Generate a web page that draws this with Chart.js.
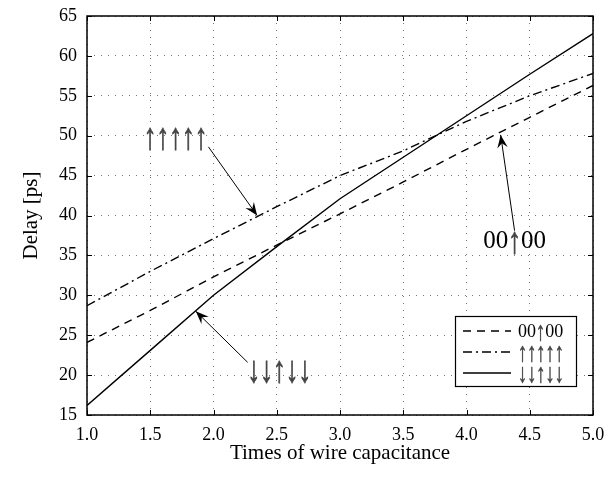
<!DOCTYPE html>
<html>
<head>
<meta charset="utf-8">
<script src="https://cdn.jsdelivr.net/npm/chart.js@4"></script>
<style>
  html, body { margin: 0; padding: 0; background: #fff; }
  #wrap { width: 612px; height: 479px; }
</style>
</head>
<body>
<div id="wrap"><canvas id="delayChart" width="612" height="479"></canvas></div>
<script>
// wire capacitance multiples
let capTimes = [1.0, 1.5, 2.0, 2.5, 3.0, 3.5, 4.0, 4.5, 5.0];

// delays in ps
let delayMid = [24.1, 28.1, 32.3, 36.3, 40.2, 44.2, 48.3, 52.3, 56.3];   // 00↑00
let delayAllUp = [28.7, 33, 37.1, 41.1, 45, 48.1, 51.8, 55, 57.8];       // ↑↑↑↑↑
let delayOpp = [16.2, 23.1, 30, 36.1, 42.1, 47.3, 52.5, 57.7, 62.8];     // ↓↓↑↓↓

let seriesLabels = ["00\u219100", "\u2191\u2191\u2191\u2191\u2191", "\u2193\u2193\u2191\u2193\u2193"];

// annotation text + arrow, in data units
let notes = [
    { text: seriesLabels[1], at: [1.70, 49.8], from: [1.96, 48.6], to: [2.345, 40.0] },
    { text: seriesLabels[2], at: [2.52, 20.6], from: [2.27, 21.6], to: [1.86, 28.0] },
    { text: seriesLabels[0], at: [4.38, 36.7], from: [4.38, 38.1], to: [4.27, 50.1] }
];

const SERIF = "'Liberation Serif', 'DejaVu Serif', serif";

function toXY(xs, ys) {
    return xs.map((x, i) => ({ x: x, y: ys[i] }));
}

// keep the plot box where the layout padding puts it
function noEdgePadding(s) {
    s.paddingTop = 0; s.paddingBottom = 0;
    s.paddingLeft = 0; s.paddingRight = 0;
}

// draws a label char by char: arrows taller and narrower, like the original typesetting
function drawSym(ctx, text, x, y, size, align) {
    let chars = Array.from(text);
    let isArrow = c => c === "\u2191" || c === "\u2193";
    let arrowFont = (size * 1.5) + "px " + SERIF;
    let digitFont = size + "px " + SERIF;
    let squeeze = 0.68;
    let widths = chars.map(c => {
        ctx.font = isArrow(c) ? arrowFont : digitFont;
        return ctx.measureText(c).width * (isArrow(c) ? squeeze : 1);
    });
    let total = widths.reduce((s, w) => s + w, 0);
    let cx = align === "left" ? x : x - total / 2;
    ctx.textAlign = "left";
    ctx.textBaseline = "middle";
    chars.forEach((c, i) => {
        if (isArrow(c)) {
            ctx.save();
            ctx.font = arrowFont;
            ctx.fillStyle = "#444";
            ctx.strokeStyle = "#444";
            ctx.lineWidth = size / 30;
            ctx.translate(cx, y + size * 0.06);
            ctx.scale(squeeze, 1);
            ctx.fillText(c, 0, 0);
            ctx.strokeText(c, 0, 0);
            ctx.restore();
        } else {
            ctx.font = digitFont;
            ctx.fillStyle = "#000";
            ctx.fillText(c, cx, y);
        }
        cx += widths[i];
    });
}

// frame, inward ticks, annotations and the boxed legend
const decorPlugin = {
    id: "decor",
    afterDatasetsDraw(chart) {
        let ctx = chart.ctx;
        let a = chart.chartArea;
        let xs = chart.scales.x, ys = chart.scales.y;
        ctx.save();

        // inward tick marks on all four sides
        ctx.strokeStyle = "#000";
        ctx.lineWidth = 1;
        ctx.beginPath();
        xs.ticks.forEach(t => {
            let px = Math.round(xs.getPixelForValue(t.value)) + 0.5;
            ctx.moveTo(px, a.bottom); ctx.lineTo(px, a.bottom - 5);
            ctx.moveTo(px, a.top); ctx.lineTo(px, a.top + 5);
        });
        ys.ticks.forEach(t => {
            let py = Math.round(ys.getPixelForValue(t.value)) + 0.5;
            ctx.moveTo(a.left, py); ctx.lineTo(a.left + 5, py);
            ctx.moveTo(a.right, py); ctx.lineTo(a.right - 5, py);
        });
        ctx.stroke();

        // frame
        ctx.lineWidth = 1.5;
        ctx.strokeRect(a.left, a.top, a.right - a.left, a.bottom - a.top);

        // annotations
        notes.forEach(n => {
            let lx = xs.getPixelForValue(n.at[0]), ly = ys.getPixelForValue(n.at[1]);
            drawSym(ctx, n.text, lx, ly, 25, "center");
            let x0 = xs.getPixelForValue(n.from[0]), y0 = ys.getPixelForValue(n.from[1]);
            let x1 = xs.getPixelForValue(n.to[0]), y1 = ys.getPixelForValue(n.to[1]);
            ctx.strokeStyle = "#000";
            ctx.fillStyle = "#000";
            ctx.lineWidth = 1;
            ctx.beginPath();
            ctx.moveTo(x0, y0); ctx.lineTo(x1, y1);
            ctx.stroke();
            let ang = Math.atan2(y1 - y0, x1 - x0);
            let len = 14, spread = 0.38;
            ctx.beginPath();
            ctx.moveTo(x1, y1);
            ctx.lineTo(x1 - len * Math.cos(ang - spread), y1 - len * Math.sin(ang - spread));
            ctx.lineTo(x1 - len * 0.6 * Math.cos(ang), y1 - len * 0.6 * Math.sin(ang));
            ctx.lineTo(x1 - len * Math.cos(ang + spread), y1 - len * Math.sin(ang + spread));
            ctx.closePath();
            ctx.fill();
        });

        // legend box (lower right corner of the plot)
        let bx = a.right - 138, by = a.bottom - 99, bw = 121, bh = 70;
        ctx.fillStyle = "#fff";
        ctx.fillRect(bx, by, bw, bh);
        ctx.lineWidth = 1.2;
        ctx.strokeStyle = "#000";
        ctx.strokeRect(bx + 0.5, by + 0.5, bw, bh);
        chart.data.datasets.forEach((ds, i) => {
            let ry = by + 15 + i * 21;
            ctx.beginPath();
            ctx.strokeStyle = "#000";
            ctx.setLineDash(ds.borderDash || []);
            ctx.lineWidth = ds.borderWidth;
            ctx.moveTo(bx + 8, ry); ctx.lineTo(bx + 56, ry);
            ctx.stroke();
            ctx.setLineDash([]);
            drawSym(ctx, ds.label, bx + 63, ry + 1, 18, "left");
        });
        ctx.restore();
    }
};

let ctx = document.getElementById("delayChart").getContext("2d");
let delayChart = new Chart(ctx, {
    type: "line",
    data: {
        datasets: [{
            label: seriesLabels[0],
            data: toXY(capTimes, delayMid),
            borderColor: "#000",
            borderWidth: 1.4,
            borderDash: [8, 6],
            pointRadius: 0,
            fill: false
        }, {
            label: seriesLabels[1],
            data: toXY(capTimes, delayAllUp),
            borderColor: "#000",
            borderWidth: 1.4,
            borderDash: [9, 4, 2, 4],
            pointRadius: 0,
            fill: false
        }, {
            label: seriesLabels[2],
            data: toXY(capTimes, delayOpp),
            borderColor: "#000",
            borderWidth: 1.4,
            pointRadius: 0,
            fill: false
        }]
    },
    options: {
        responsive: false,
        maintainAspectRatio: false,
        animation: false,
        layout: { padding: { left: 0, top: 16, right: 19, bottom: 0 } },
        plugins: {
            legend: { display: false },
            tooltip: { enabled: false }
        },
        scales: {
            x: {
                type: "linear",
                min: 1, max: 5,
                afterFit: s => { s.height = 64; noEdgePadding(s); },
                ticks: {
                    stepSize: 0.5,
                    color: "#000",
                    padding: 9,
                    font: { family: SERIF, size: 18 },
                    callback: v => v.toFixed(1)
                },
                grid: { color: "#777", lineWidth: 1, drawTicks: false },
                border: { display: false, dash: [1, 6] },
                title: {
                    display: true,
                    text: "Times of wire capacitance",
                    color: "#000",
                    padding: { top: 0, bottom: 13 },
                    font: { family: SERIF, size: 21 }
                }
            },
            y: {
                min: 15, max: 65,
                afterFit: s => { s.width = 87; noEdgePadding(s); },
                ticks: {
                    stepSize: 5,
                    color: "#000",
                    padding: 10,
                    font: { family: SERIF, size: 18 }
                },
                grid: { color: "#777", lineWidth: 1, drawTicks: false },
                border: { display: false, dash: [1, 6] },
                title: {
                    display: true,
                    text: "Delay [ps]",
                    color: "#000",
                    padding: { top: 19 },
                    font: { family: SERIF, size: 21 }
                }
            }
        }
    },
    plugins: [decorPlugin]
});
</script>
</body>
</html>
